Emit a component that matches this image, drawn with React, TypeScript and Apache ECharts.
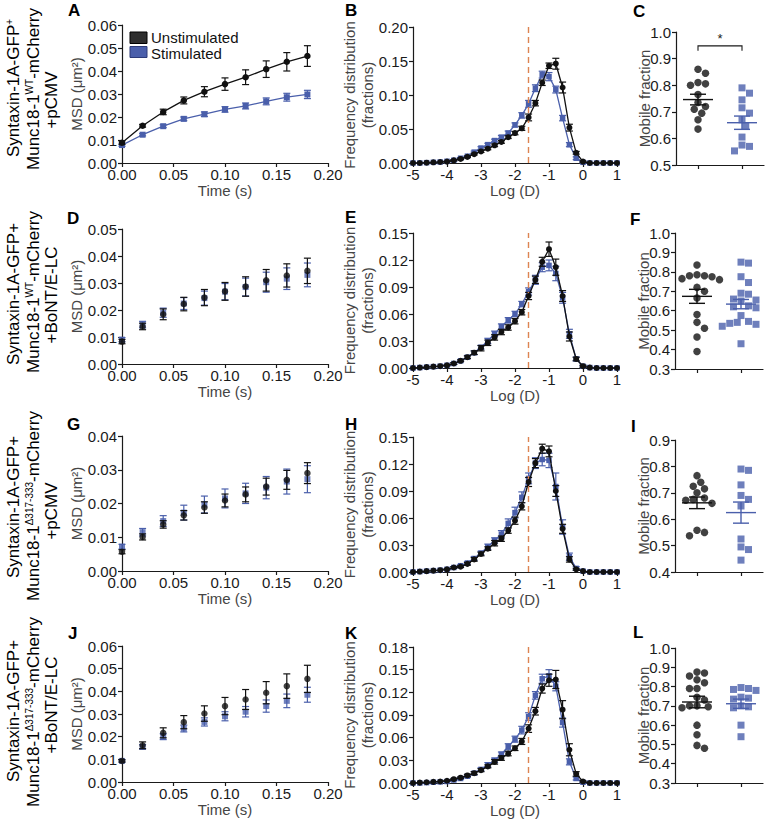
import React, { useEffect, useRef } from 'react';
import * as echarts from 'echarts';

// ---------- data ----------
const timePts = [0, 0.02, 0.04, 0.06, 0.08, 0.1, 0.12, 0.14, 0.16, 0.18];

const aUnstim = [0.0088, 0.0162, 0.0222, 0.0272, 0.031, 0.0343, 0.0373, 0.0408, 0.044, 0.0465];
const aUnstimErr = [0.0008, 0.0006, 0.0012, 0.0015, 0.0022, 0.0027, 0.0032, 0.0036, 0.004, 0.0045];
const aStim = [0.0078, 0.0123, 0.016, 0.0192, 0.0212, 0.0233, 0.0248, 0.0268, 0.0286, 0.0298];
const aStimErr = [0.0006, 0.0005, 0.0006, 0.0008, 0.001, 0.0012, 0.0013, 0.0015, 0.0017, 0.0018];

const dUnstim = [0.0083, 0.0139, 0.0184, 0.0222, 0.0246, 0.0269, 0.0287, 0.031, 0.0328, 0.0345];
const dUnstimErr = [0.0008, 0.0012, 0.002, 0.0025, 0.003, 0.0033, 0.0036, 0.004, 0.0043, 0.0047];
const dStim = [0.009, 0.0146, 0.019, 0.0224, 0.0244, 0.0268, 0.0285, 0.0303, 0.0316, 0.033];
const dStimErr = [0.0008, 0.0012, 0.0017, 0.0022, 0.0026, 0.003, 0.0033, 0.0037, 0.004, 0.0044];

const gUnstim = [0.0057, 0.0101, 0.0138, 0.0165, 0.0188, 0.0209, 0.0227, 0.025, 0.027, 0.029];
const gUnstimErr = [0.0006, 0.0009, 0.0011, 0.0014, 0.0017, 0.0019, 0.0022, 0.0025, 0.0028, 0.0031];
const gStim = [0.0072, 0.0115, 0.0148, 0.0173, 0.0197, 0.0215, 0.023, 0.0247, 0.0265, 0.0272];
const gStimErr = [0.0007, 0.0011, 0.0016, 0.0022, 0.0025, 0.0028, 0.003, 0.0033, 0.0037, 0.004];

const jUnstim = [0.0093, 0.0162, 0.0217, 0.0264, 0.0302, 0.0335, 0.0364, 0.0394, 0.0423, 0.0455];
const jUnstimErr = [0.0005, 0.0015, 0.0022, 0.0029, 0.0034, 0.0038, 0.0044, 0.0049, 0.0054, 0.006];
const jStim = [0.0093, 0.0155, 0.02, 0.0236, 0.0265, 0.029, 0.031, 0.0335, 0.0358, 0.0385];
const jStimErr = [0.0005, 0.001, 0.0013, 0.0015, 0.0018, 0.002, 0.0023, 0.0027, 0.003, 0.0033];

const logD = [-5, -4.8, -4.6, -4.4, -4.2, -4, -3.8, -3.6, -3.4, -3.2, -3, -2.8, -2.6, -2.4, -2.2, -2, -1.8, -1.6, -1.4, -1.2, -1, -0.8, -0.6, -0.4, -0.2, 0, 0.2, 0.4, 0.6, 0.8, 1];
const thresholdLogD = -1.6;

const bUnstim = [0, 0, 0.0005, 0.001, 0.0015, 0.002, 0.004, 0.006, 0.009, 0.013, 0.017, 0.021, 0.026, 0.031, 0.038, 0.044, 0.051, 0.067, 0.088, 0.118, 0.143, 0.146, 0.111, 0.052, 0.015, 0.002, 0, 0, 0, 0, 0];
const bUnstimErr = [0, 0, 0, 0, 0, 0.0005, 0.0008, 0.001, 0.001, 0.0012, 0.0015, 0.0015, 0.002, 0.002, 0.002, 0.0025, 0.003, 0.005, 0.004, 0.004, 0.004, 0.008, 0.008, 0.005, 0.002, 0.001, 0, 0, 0, 0, 0];
const bStim = [0, 0, 0.0005, 0.001, 0.0015, 0.0025, 0.004, 0.007, 0.01, 0.016, 0.022, 0.027, 0.033, 0.038, 0.044, 0.056, 0.07, 0.087, 0.11, 0.13, 0.127, 0.108, 0.066, 0.027, 0.007, 0.001, 0, 0, 0, 0, 0];
const bStimErr = [0, 0, 0, 0, 0, 0.0005, 0.001, 0.001, 0.001, 0.0015, 0.002, 0.002, 0.002, 0.0025, 0.003, 0.003, 0.004, 0.005, 0.005, 0.005, 0.006, 0.005, 0.004, 0.003, 0.002, 0.001, 0, 0, 0, 0, 0];

const eUnstim = [0, 0.0005, 0.001, 0.0015, 0.002, 0.003, 0.005, 0.008, 0.012, 0.017, 0.022, 0.028, 0.034, 0.04, 0.045, 0.052, 0.062, 0.08, 0.098, 0.118, 0.132, 0.112, 0.08, 0.035, 0.01, 0.002, 0.0005, 0, 0, 0, 0];
const eUnstimErr = [0, 0, 0, 0, 0, 0.0005, 0.001, 0.001, 0.0015, 0.002, 0.003, 0.003, 0.003, 0.003, 0.003, 0.003, 0.003, 0.004, 0.004, 0.005, 0.008, 0.009, 0.006, 0.005, 0.002, 0.001, 0, 0, 0, 0, 0];
const eStim = [0, 0.0005, 0.001, 0.0015, 0.002, 0.003, 0.005, 0.008, 0.012, 0.017, 0.023, 0.03, 0.038, 0.046, 0.053, 0.06, 0.071, 0.085, 0.098, 0.112, 0.114, 0.105, 0.078, 0.038, 0.01, 0.002, 0.0005, 0, 0, 0, 0];
const eStimErr = [0, 0, 0, 0, 0, 0.0005, 0.001, 0.001, 0.0015, 0.002, 0.002, 0.003, 0.003, 0.003, 0.003, 0.003, 0.003, 0.004, 0.005, 0.005, 0.006, 0.008, 0.006, 0.005, 0.002, 0.001, 0, 0, 0, 0, 0];

const hUnstim = [0, 0.0005, 0.001, 0.0015, 0.002, 0.003, 0.005, 0.006, 0.009, 0.014, 0.02, 0.026, 0.032, 0.037, 0.046, 0.057, 0.073, 0.1, 0.121, 0.137, 0.134, 0.09, 0.048, 0.014, 0.003, 0.001, 0, 0, 0, 0, 0];
const hUnstimErr = [0, 0, 0, 0, 0, 0.0005, 0.001, 0.001, 0.0015, 0.002, 0.002, 0.002, 0.003, 0.003, 0.003, 0.004, 0.004, 0.005, 0.005, 0.005, 0.006, 0.006, 0.005, 0.003, 0.001, 0, 0, 0, 0, 0, 0];
const hStim = [0, 0.0005, 0.001, 0.0015, 0.002, 0.003, 0.005, 0.007, 0.01, 0.015, 0.021, 0.028, 0.035, 0.042, 0.054, 0.066, 0.083, 0.104, 0.121, 0.125, 0.124, 0.095, 0.05, 0.017, 0.004, 0.001, 0, 0, 0, 0, 0];
const hStimErr = [0, 0, 0, 0, 0, 0.0005, 0.001, 0.001, 0.0015, 0.002, 0.002, 0.003, 0.003, 0.004, 0.005, 0.006, 0.006, 0.006, 0.006, 0.007, 0.008, 0.015, 0.008, 0.004, 0.002, 0, 0, 0, 0, 0, 0];

const kUnstim = [0, 0.0005, 0.001, 0.0015, 0.002, 0.003, 0.005, 0.007, 0.01, 0.013, 0.017, 0.022, 0.028, 0.033, 0.039, 0.046, 0.055, 0.072, 0.095, 0.125, 0.136, 0.137, 0.097, 0.044, 0.012, 0.002, 0, 0, 0, 0, 0];
const kUnstimErr = [0, 0, 0, 0, 0, 0.0005, 0.001, 0.001, 0.0015, 0.002, 0.002, 0.002, 0.003, 0.003, 0.003, 0.003, 0.004, 0.005, 0.005, 0.006, 0.008, 0.012, 0.012, 0.008, 0.003, 0.001, 0, 0, 0, 0, 0];
const kStim = [0, 0, 0.0005, 0.001, 0.0015, 0.002, 0.004, 0.006, 0.009, 0.013, 0.018, 0.024, 0.03, 0.038, 0.048, 0.058, 0.07, 0.088, 0.116, 0.138, 0.142, 0.128, 0.08, 0.028, 0.006, 0.001, 0, 0, 0, 0, 0];
const kStimErr = [0, 0, 0, 0, 0, 0.0005, 0.001, 0.001, 0.0015, 0.002, 0.002, 0.003, 0.003, 0.003, 0.004, 0.004, 0.005, 0.005, 0.005, 0.006, 0.008, 0.006, 0.006, 0.004, 0.002, 0.001, 0, 0, 0, 0, 0];

const cUnstim = [0.86, 0.845, 0.81, 0.805, 0.8, 0.765, 0.735, 0.72, 0.71, 0.695, 0.67, 0.635];
const cStim = [0.79, 0.77, 0.745, 0.715, 0.695, 0.67, 0.645, 0.605, 0.575, 0.57, 0.553];
const cMean = [0.746, 0.659];
const cSem = [0.02, 0.025];
const cSignificance = '*';
const cSigLevel = 0.948;

const fUnstim = [0.835, 0.785, 0.78, 0.78, 0.775, 0.765, 0.76, 0.72, 0.7, 0.665, 0.58, 0.54, 0.51, 0.465, 0.39];
const fStim = [0.85, 0.845, 0.775, 0.745, 0.69, 0.685, 0.66, 0.655, 0.65, 0.625, 0.62, 0.615, 0.575, 0.545, 0.54, 0.535, 0.53, 0.52, 0.43];
const fMean = [0.674, 0.634];
const fSem = [0.036, 0.024];

const iUnstim = [0.765, 0.74, 0.725, 0.715, 0.7, 0.68, 0.675, 0.672, 0.66, 0.558, 0.55, 0.537];
const iStim = [0.79, 0.785, 0.73, 0.69, 0.675, 0.65, 0.525, 0.495, 0.485, 0.445];
const iMean = [0.662, 0.625];
const iSem = [0.022, 0.04];

const lUnstim = [0.875, 0.87, 0.855, 0.835, 0.82, 0.79, 0.79, 0.745, 0.73, 0.7, 0.7, 0.695, 0.69, 0.6, 0.55, 0.495, 0.48];
const lStim = [0.795, 0.79, 0.785, 0.78, 0.745, 0.74, 0.735, 0.7, 0.695, 0.69, 0.6, 0.54];
const lMean = [0.72, 0.711];
const lSem = [0.03, 0.024];

const legendNames = ['Unstimulated', 'Stimulated'];
const panelLetters = ['A', 'B', 'C', 'D', 'E', 'F', 'G', 'H', 'I', 'J', 'K', 'L'];

// ---------- styling ----------
const FONT = '"Liberation Sans", Arial, Helvetica, sans-serif';
const BLACK = '#111111';
const BLUE = '#4a5fab';
const AX = '#1a1a1a';
const NAME_C = '#454545';
const ORANGE = '#dd8452';

function baseAxis(gridIndex: number, extra: any) {
  return {
    gridIndex,
    type: 'value',
    axisLine: { show: true, onZero: false, lineStyle: { color: AX, width: 1.2 } },
    axisTick: { show: true, inside: false, length: 4, lineStyle: { color: AX, width: 1.2 } },
    splitLine: { show: false },
    nameLocation: 'middle',
    nameMoveOverlap: false,
    nameTextStyle: { color: NAME_C, fontSize: 15, fontFamily: FONT },
    ...extra,
    axisLabel: { color: AX, fontSize: 15, lineHeight: 13, fontFamily: FONT, margin: 5, ...(extra.axisLabel || {}) },
  };
}

function errorBarSeries(ai: number, xs: number[], ys: number[], errs: number[], color: string, z: number) {
  const cap = 3.5;
  return {
    type: 'custom',
    xAxisIndex: ai,
    yAxisIndex: ai,
    z,
    silent: true,
    clip: false,
    data: xs.map((x, i) => [x, ys[i], errs[i]]),
    encode: { x: 0, y: 1 },
    renderItem: (_p: any, api: any) => {
      const x = api.value(0);
      const y = api.value(1);
      const e = api.value(2);
      if (!(e > 0)) return { type: 'group', children: [] };
      const t = api.coord([x, y + e]);
      const b = api.coord([x, y - e]);
      const st = { stroke: color, lineWidth: 1.2 };
      return {
        type: 'group',
        children: [
          { type: 'line', shape: { x1: t[0], y1: t[1], x2: b[0], y2: b[1] }, style: st },
          { type: 'line', shape: { x1: t[0] - cap, y1: t[1], x2: t[0] + cap, y2: t[1] }, style: st },
          { type: 'line', shape: { x1: b[0] - cap, y1: b[1], x2: b[0] + cap, y2: b[1] }, style: st },
        ],
      };
    },
  };
}

function swarmOffsets(vals: number[], pxPerY: number, d: number): number[] {
  const order = vals.map((_, i) => i).sort((a, b) => vals[b] - vals[a]);
  const placed: [number, number][] = [];
  const out = new Array(vals.length).fill(0);
  for (const i of order) {
    const y = vals[i] * pxPerY;
    let chosen = 0;
    for (let k = 0; k < 80; k++) {
      const c = k === 0 ? 0 : (k % 2 ? 1 : -1) * Math.ceil(k / 2) * (d / 2);
      if (placed.every(([px, py]) => Math.hypot(px - c, py - y) >= d)) {
        chosen = c;
        break;
      }
    }
    placed.push([chosen, y]);
    out[i] = chosen;
  }
  return out;
}

function buildOption() {
  const grid: any[] = [];
  const xAxis: any[] = [];
  const yAxis: any[] = [];
  const series: any[] = [];
  const graphic: any[] = [];

  const msdPanels = [
    { g: { left: 122, top: 25, width: 206, height: 138 }, yMax: 0.06, u: aUnstim, ue: aUnstimErr, s: aStim, se: aStimErr, lines: true },
    { g: { left: 122, top: 229, width: 206, height: 135 }, yMax: 0.05, u: dUnstim, ue: dUnstimErr, s: dStim, se: dStimErr, lines: false },
    { g: { left: 122, top: 436, width: 206, height: 135 }, yMax: 0.04, u: gUnstim, ue: gUnstimErr, s: gStim, se: gStimErr, lines: false },
    { g: { left: 122, top: 646, width: 206, height: 136 }, yMax: 0.06, u: jUnstim, ue: jUnstimErr, s: jStim, se: jStimErr, lines: false },
  ];
  const distPanels = [
    { g: { left: 413, top: 27, width: 204, height: 136 }, yMax: 0.2, step: 0.05, u: bUnstim, ue: bUnstimErr, s: bStim, se: bStimErr },
    { g: { left: 413, top: 233, width: 204, height: 135 }, yMax: 0.15, step: 0.03, u: eUnstim, ue: eUnstimErr, s: eStim, se: eStimErr },
    { g: { left: 413, top: 437, width: 204, height: 135 }, yMax: 0.15, step: 0.03, u: hUnstim, ue: hUnstimErr, s: hStim, se: hStimErr },
    { g: { left: 413, top: 647, width: 204, height: 136 }, yMax: 0.18, step: 0.03, u: kUnstim, ue: kUnstimErr, s: kStim, se: kStimErr },
  ];
  const scatPanels = [
    { g: { left: 676, top: 32, width: 88, height: 133 }, yMin: 0.5, yMax: 1.0, u: cUnstim, s: cStim, mean: cMean, sem: cSem, sig: true },
    { g: { left: 675, top: 233, width: 88, height: 136 }, yMin: 0.3, yMax: 1.0, u: fUnstim, s: fStim, mean: fMean, sem: fSem, sig: false },
    { g: { left: 675, top: 440, width: 88, height: 132 }, yMin: 0.4, yMax: 0.9, u: iUnstim, s: iStim, mean: iMean, sem: iSem, sig: false },
    { g: { left: 675, top: 648, width: 88, height: 135 }, yMin: 0.3, yMax: 1.0, u: lUnstim, s: lStim, mean: lMean, sem: lSem, sig: false },
  ];

  const addGrid = (g: any) => {
    grid.push({ ...g, containLabel: false, outerBoundsMode: 'none', show: false });
    return grid.length - 1;
  };

  msdPanels.forEach((p) => {
    const ai = addGrid(p.g);
    xAxis.push(baseAxis(ai, {
      min: 0, max: 0.2, interval: 0.05, name: 'Time (s)', nameGap: 20,
      axisLabel: { formatter: (v: number) => v.toFixed(2), margin: 5 },
    }));
    yAxis.push(baseAxis(ai, {
      min: 0, max: p.yMax, interval: 0.01, name: 'MSD (μm²)', nameGap: 38,
      axisLabel: { formatter: (v: number) => v.toFixed(2), margin: 5 },
    }));
    series.push(errorBarSeries(ai, timePts, p.s, p.se, BLUE, 2));
    series.push({
      type: p.lines ? 'line' : 'scatter', name: legendNames[1], xAxisIndex: ai, yAxisIndex: ai, z: 3,
      clip: false, silent: true,
      data: timePts.map((t, i) => [t, p.s[i]]),
      symbol: 'rect', symbolSize: 6, itemStyle: { color: BLUE },
      lineStyle: { color: BLUE, width: 1.3 },
    });
    series.push(errorBarSeries(ai, timePts, p.u, p.ue, BLACK, 4));
    series.push({
      type: p.lines ? 'line' : 'scatter', name: legendNames[0], xAxisIndex: ai, yAxisIndex: ai, z: 5,
      clip: false, silent: true,
      data: timePts.map((t, i) => [t, p.u[i]]),
      symbol: 'circle', symbolSize: 6.5, itemStyle: { color: BLACK },
      lineStyle: { color: BLACK, width: 1.3 },
    });
  });

  distPanels.forEach((p) => {
    const ai = addGrid(p.g);
    xAxis.push(baseAxis(ai, {
      min: -5, max: 1, interval: 1, name: 'Log (D)', nameGap: 20,
      axisLabel: { formatter: (v: number) => String(v), margin: 5 },
    }));
    yAxis.push(baseAxis(ai, {
      min: 0, max: p.yMax, interval: p.step, name: 'Frequency distribution\n(fractions)', nameGap: 37,
      nameTextStyle: { color: NAME_C, fontSize: 15, fontFamily: FONT, lineHeight: 18 },
      axisLabel: { formatter: (v: number) => v.toFixed(2), margin: 5 },
    }));
    series.push(errorBarSeries(ai, logD, p.s, p.se, BLUE, 2));
    series.push({
      type: 'line', name: legendNames[1], xAxisIndex: ai, yAxisIndex: ai, z: 3, clip: false, silent: true,
      data: logD.map((x, i) => [x, p.s[i]]),
      symbol: 'rect', symbolSize: 5.5, itemStyle: { color: BLUE }, lineStyle: { color: BLUE, width: 1.3 },
      markLine: {
        silent: true, symbol: ['none', 'none'], label: { show: false }, animation: false,
        lineStyle: { type: [6, 4], color: ORANGE, width: 1.4 },
        data: [{ xAxis: thresholdLogD }],
      },
    });
    series.push(errorBarSeries(ai, logD, p.u, p.ue, BLACK, 4));
    series.push({
      type: 'line', name: legendNames[0], xAxisIndex: ai, yAxisIndex: ai, z: 5, clip: false, silent: true,
      data: logD.map((x, i) => [x, p.u[i]]),
      symbol: 'circle', symbolSize: 6, itemStyle: { color: BLACK }, lineStyle: { color: BLACK, width: 1.3 },
    });
  });

  scatPanels.forEach((p) => {
    const ai = addGrid(p.g);
    const pxPerX = p.g.width / 2;
    const pxPerY = p.g.height / (p.yMax - p.yMin);
    xAxis.push(baseAxis(ai, {
      min: 0.5, max: 2.5,
      axisTick: { show: true, inside: false, length: 4, lineStyle: { color: AX, width: 1.2 }, customValues: [1, 2] },
      axisLabel: { show: false },
    }));
    yAxis.push(baseAxis(ai, {
      min: p.yMin, max: p.yMax, interval: 0.1, name: 'Mobile fraction', nameGap: 24,
      axisLabel: { formatter: (v: number) => v.toFixed(1), margin: 5 },
    }));
    const uOff = swarmOffsets(p.u, pxPerY, 7.5);
    const sOff = swarmOffsets(p.s, pxPerY, 7.5);
    series.push({
      type: 'scatter', name: legendNames[0], xAxisIndex: ai, yAxisIndex: ai, z: 3, silent: true, clip: false,
      data: p.u.map((v, i) => [1 + uOff[i] / pxPerX, v]),
      symbol: 'circle', symbolSize: 7.5, itemStyle: { color: BLACK },
    });
    series.push({
      type: 'scatter', name: legendNames[1], xAxisIndex: ai, yAxisIndex: ai, z: 3, silent: true, clip: false,
      data: p.s.map((v, i) => [2 + sOff[i] / pxPerX, v]),
      symbol: 'rect', symbolSize: 7, itemStyle: { color: BLUE },
    });
    series.push({
      type: 'custom', xAxisIndex: ai, yAxisIndex: ai, z: 4, silent: true, clip: false,
      data: p.mean.map((m, i) => [i + 1, m, p.sem[i], i]),
      encode: { x: 0, y: 1 },
      renderItem: (_pa: any, api: any) => {
        const x = api.value(0);
        const m = api.value(1);
        const s = api.value(2);
        const color = api.value(3) === 0 ? BLACK : BLUE;
        const c = api.coord([x, m]);
        const t = api.coord([x, m + s]);
        const b = api.coord([x, m - s]);
        const st = { stroke: color, lineWidth: 1.4 };
        return {
          type: 'group',
          children: [
            { type: 'line', shape: { x1: c[0] - 15, y1: c[1], x2: c[0] + 15, y2: c[1] }, style: st },
            { type: 'line', shape: { x1: t[0], y1: t[1], x2: b[0], y2: b[1] }, style: st },
            { type: 'line', shape: { x1: t[0] - 8, y1: t[1], x2: t[0] + 8, y2: t[1] }, style: st },
            { type: 'line', shape: { x1: b[0] - 8, y1: b[1], x2: b[0] + 8, y2: b[1] }, style: st },
          ],
        };
      },
    });
    if (p.sig) {
      series.push({
        type: 'custom', xAxisIndex: ai, yAxisIndex: ai, z: 4, silent: true, clip: false,
        data: [[1, 2, cSigLevel]],
        encode: { x: 0, y: 2 },
        renderItem: (_pa: any, api: any) => {
          const a = api.coord([api.value(0), api.value(2)]);
          const b = api.coord([api.value(1), api.value(2)]);
          const st = { stroke: AX, lineWidth: 1.1, fill: 'none' };
          return {
            type: 'group',
            children: [
              { type: 'polyline', shape: { points: [[a[0], a[1] + 5], [a[0], a[1]], [b[0], b[1]], [b[0], b[1] + 5]] }, style: st },
              { type: 'text', style: { text: cSignificance, x: (a[0] + b[0]) / 2, y: a[1] - 1, textAlign: 'center', textVerticalAlign: 'bottom', fontSize: 13, fontFamily: FONT, fill: AX } },
            ],
          };
        },
      });
    }
  });

  // panel letters
  const letterPos = [
    [68, 2], [345, 2], [633, 3], [67, 210], [345, 209], [630, 211],
    [67, 416], [345, 416], [631, 418], [68, 625], [345, 625], [633, 624],
  ];
  panelLetters.forEach((L, i) => {
    graphic.push({
      type: 'text', x: letterPos[i][0], y: letterPos[i][1], silent: true,
      style: { text: L, fontSize: 17, fontWeight: 'bold', fontFamily: FONT, fill: '#000', textVerticalAlign: 'top' },
    });
  });

  // row labels
  const rich = {
    n: { fontSize: 17, fontFamily: FONT, fill: '#000' },
    s: { fontSize: 10, fontFamily: FONT, fill: '#000', verticalAlign: 'top' },
  };
  const rows = [
    { lines: ['{n|Syntaxin-1A-GFP}{s|+}', '{n|Munc18-1}{s|WT}{n|-mCherry}', '{n|+pCMV}'], ys: [88, 89, 100] },
    { lines: ['{n|Syntaxin-1A-GFP+}', '{n|Munc18-1}{s|WT}{n|-mCherry}', '{n|+BoNT/E-LC}'], ys: [294, 292, 295] },
    { lines: ['{n|Syntaxin-1A-GFP+}', '{n|Munc18-1}{s|Δ317-333}{n|-mCherry}', '{n|+pCMV}'], ys: [507, 506, 511] },
    { lines: ['{n|Syntaxin-1A-GFP+}', '{n|Munc18-1}{s|Δ317-333}{n|-mCherry}', '{n|+BoNT/E-LC}'], ys: [711, 712, 705] },
  ];
  const lineX = [13, 33, 51];
  rows.forEach((r) => {
    r.lines.forEach((t, j) => {
      graphic.push({
        type: 'text', x: lineX[j], y: r.ys[j], rotation: Math.PI / 2, silent: true,
        style: { text: t, rich, textAlign: 'center', textVerticalAlign: 'middle', fontSize: 17, fontFamily: FONT, fill: '#000' },
      });
    });
  });

  // legend in panel A
  graphic.push({ type: 'rect', silent: true, shape: { x: 130, y: 32, width: 17, height: 11.5 }, style: { fill: '#2e2e2e', stroke: '#000', lineWidth: 1 } });
  graphic.push({ type: 'rect', silent: true, shape: { x: 130, y: 46.5, width: 17, height: 11 }, style: { fill: BLUE, stroke: '#2c3a78', lineWidth: 1 } });
  graphic.push({ type: 'text', silent: true, x: 151, y: 37, style: { text: legendNames[0], fontSize: 15, lineHeight: 14, fontFamily: FONT, fill: '#111', textVerticalAlign: 'middle' } });
  graphic.push({ type: 'text', silent: true, x: 151, y: 53, style: { text: legendNames[1], fontSize: 15, lineHeight: 14, fontFamily: FONT, fill: '#111', textVerticalAlign: 'middle' } });

  return {
    animation: false,
    backgroundColor: '#ffffff',
    grid,
    xAxis,
    yAxis,
    series,
    graphic,
  };
}

export default function App() {
  const ref = useRef<HTMLDivElement>(null);
  useEffect(() => {
    if (!ref.current) return;
    const chart = echarts.init(ref.current, null, { renderer: 'svg' });
    chart.setOption(buildOption() as any);
    return () => chart.dispose();
  }, []);
  return (
    <div
      ref={ref}
      style={{ position: 'absolute', left: 0, top: 0, width: 765, height: 819, background: '#fff' }}
    />
  );
}
